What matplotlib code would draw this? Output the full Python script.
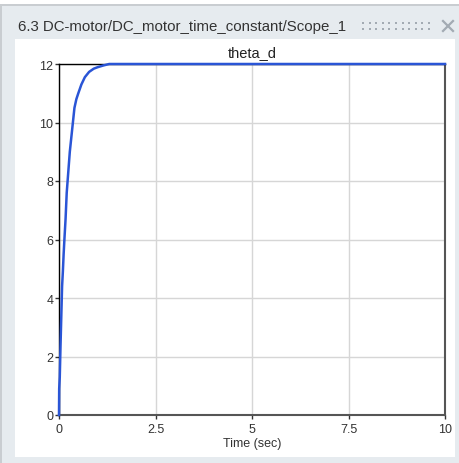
import matplotlib
matplotlib.use("Agg")
import matplotlib.pyplot as plt
from matplotlib.patches import Rectangle
from matplotlib.lines import Line2D

# Data
time_s = [0, 0.005, 0.02, 0.04, 0.06, 0.08, 0.10, 0.12, 0.14, 0.17, 0.20, 0.24,
          0.28, 0.32, 0.36, 0.40, 0.45, 0.50, 0.58, 0.67, 0.78, 0.90, 1.0, 1.15,
          1.3, 10]
theta_d = [0, 0.9, 1.3, 2.4, 3.4, 4.4, 4.9, 5.5, 6.0, 6.7, 7.6, 8.3,
           9.0, 9.5, 10.0, 10.5, 10.8, 11.0, 11.3, 11.55, 11.73, 11.84, 11.89, 11.95,
           12.0, 12.0]
x_ticks = [0, 2.5, 5, 7.5, 10]
x_tick_labels = ["0", "2.5", "5", "7.5", "10"]
y_ticks = [0, 2, 4, 6, 8, 10, 12]

plt.rcParams['font.family'] = ['Liberation Sans', 'DejaVu Sans']

W, H = 460, 464
fig = plt.figure(figsize=(W / 100, H / 100), dpi=100)
fig.patch.set_facecolor('white')

def rect(x0, y0, x1, y1, color, z=-10):
    # pixel coords from top-left
    fig.patches.append(Rectangle((x0 / W, 1 - y1 / H), (x1 - x0) / W, (y1 - y0) / H,
                                 transform=fig.transFigure, facecolor=color,
                                 edgecolor='none', zorder=z))

rect(0, 5, 460, 464, '#c9cdd1')          # outer frame
rect(2, 7, 460, 464, '#e6ebef')          # window background
rect(15, 40, 455, 458, 'white')          # plot panel

fig.text(18 / W, 1 - 27.5 / H, "6.3 DC-motor/DC_motor_time_constant/Scope_1",
         fontsize=10.8, color='#333333', va='center', ha='left')

# grip dots
for i in range(11):
    for yy in (24, 30):
        x0 = 362 + i * 6.6
        rect(x0, yy - 1, x0 + 2, yy + 1, '#a3abb3', z=5)

# close cross
for (xa, ya, xb, yb) in ((443, 22, 453, 32), (443, 32, 453, 22)):
    fig.add_artist(Line2D([xa / W, xb / W], [1 - ya / H, 1 - yb / H],
                          transform=fig.transFigure, color='#a3abb3', linewidth=1.6))

ax = fig.add_axes([59 / W, 1 - 416 / H, (445 - 59) / W, (416 - 65) / H])
ax.plot(time_s, theta_d, color='#2a55d6', linewidth=1.8, zorder=3, clip_on=False)
ax.set_xlim(0, 10)
ax.set_ylim(0, 12)
ax.set_xticks(x_ticks)
ax.set_xticklabels(x_tick_labels)
ax.set_yticks(y_ticks)
ax.grid(True, color='#d6d6d6', linewidth=1)
ax.set_axisbelow(True)
ax.tick_params(labelsize=9, colors='#333333', length=3, width=1)
ax.tick_params(axis='x', pad=3)
ax.tick_params(axis='y', pad=1)
ax.spines['left'].set_color('black')
ax.spines['top'].set_color('black')
ax.spines['left'].set_linewidth(1)
ax.spines['top'].set_linewidth(1)
ax.spines['right'].set_color('#555555')
ax.spines['bottom'].set_color('#555555')
ax.spines['right'].set_linewidth(1.5)
ax.spines['bottom'].set_linewidth(1.5)
ax.set_title("theta_d", fontsize=10.5, color='#222222', pad=6)
ax.set_xlabel("Time (sec)", fontsize=9, color='#333333', labelpad=1)

fig.savefig("out.png", dpi=100)
